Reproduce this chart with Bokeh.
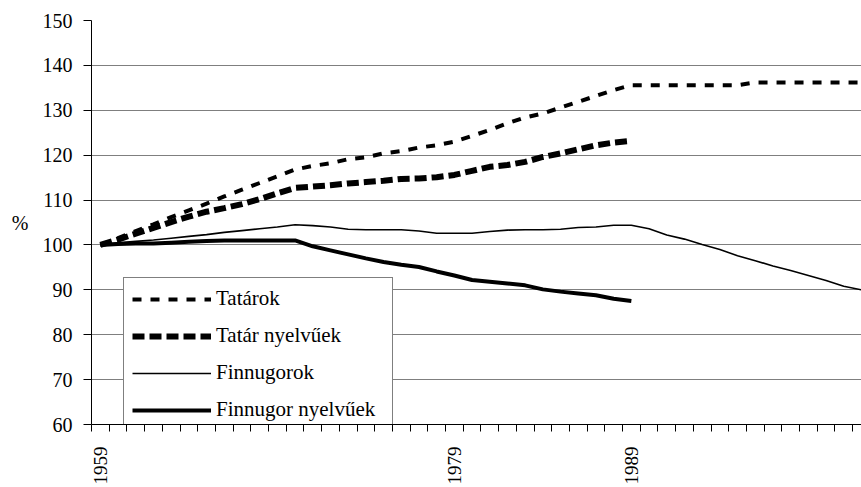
import math
from bokeh.plotting import figure
from bokeh.models import Range1d, FixedTicker, Legend, LegendItem
from bokeh.embed import file_html
from bokeh.resources import INLINE

years_all = list(range(1959, 2003))
years_to_1989 = list(range(1959, 1990))
x_labels = [1959, 1979, 1989]
y_ticks = [60, 70, 80, 90, 100, 110, 120, 130, 140, 150]

tatarok = [100.0, 101.5, 103.1, 104.6, 106.2, 107.7, 109.2, 110.8, 112.3, 113.8,
           115.3, 116.8, 117.6, 118.2, 119.1, 119.5, 120.4, 120.9, 121.7, 122.2,
           123.0, 124.3, 125.6, 127.1, 128.4, 129.3, 130.6, 131.9, 133.2, 134.5,
           135.6, 135.6, 135.6, 135.6, 135.6, 135.6, 135.6, 136.2, 136.2, 136.2,
           136.2, 136.2, 136.2, 136.2]
tatar_nyelvuek = [100.0, 101.2, 102.5, 103.8, 105.1, 106.3, 107.4, 108.2, 109.1, 110.2,
                  111.5, 112.7, 113.0, 113.3, 113.7, 114.0, 114.3, 114.7, 114.8, 115.1,
                  115.6, 116.5, 117.4, 117.8, 118.5, 119.6, 120.4, 121.3, 122.2, 122.8,
                  123.2]
finnugorok = [100.0, 100.5, 100.8, 101.1, 101.5, 101.9, 102.3, 102.8, 103.2, 103.6,
              104.0, 104.5, 104.3, 104.0, 103.5, 103.4, 103.4, 103.4, 103.1, 102.6,
              102.6, 102.6, 103.0, 103.3, 103.4, 103.4, 103.5, 103.9, 104.0, 104.4,
              104.4, 103.6, 102.2, 101.3, 100.1, 99.0, 97.6, 96.5, 95.3, 94.3,
              93.2, 92.1, 90.8, 90.0]
finnugor_nyelvuek = [100.0, 100.2, 100.3, 100.3, 100.5, 100.7, 100.9, 101.0, 101.0, 101.0,
                     101.0, 101.0, 99.7, 98.8, 97.9, 97.0, 96.2, 95.6, 95.1, 94.1,
                     93.2, 92.2, 91.8, 91.4, 91.0, 90.1, 89.6, 89.2, 88.8, 88.0,
                     87.5]

FONT = "Liberation Serif"
W, H = 861, 487
LEFT, TOP, BOTTOM = 91, 20, 63
px_per_year = 17.7
x_start = 1958.5
x_end = x_start + (W - LEFT) / px_per_year

p = figure(width=W, height=H, output_backend="svg", toolbar_location=None,
           x_range=Range1d(x_start, x_end), y_range=Range1d(60, 150),
           min_border_left=LEFT, min_border_top=TOP, min_border_bottom=BOTTOM,
           min_border_right=0)
p.outline_line_color = None
p.background_fill_color = "white"
p.border_fill_color = "white"

p.xgrid.grid_line_color = None
p.ygrid.grid_line_color = "#7f7f7f"
p.ygrid.grid_line_width = 1
p.yaxis.ticker = FixedTicker(ticks=y_ticks)
p.xaxis.ticker = FixedTicker(ticks=x_labels,
                             minor_ticks=[x_start + k for k in range(0, 45)])

p.yaxis.axis_line_color = "black"
p.yaxis.major_tick_out = 8
p.yaxis.major_tick_in = 0
p.yaxis.minor_tick_line_color = None
p.yaxis.major_label_standoff = 11
p.yaxis.major_label_text_font = FONT
p.yaxis.major_label_text_font_size = "20px"
p.yaxis.major_label_text_color = "black"
p.yaxis.axis_label = "%"
p.yaxis.axis_label_orientation = "horizontal"
p.yaxis.axis_label_text_font = FONT
p.yaxis.axis_label_text_font_size = "20px"
p.yaxis.axis_label_text_font_style = "normal"
p.yaxis.axis_label_text_color = "black"
p.yaxis.axis_label_standoff = 11

p.xaxis.axis_line_color = "black"
p.xaxis.major_tick_out = 0
p.xaxis.major_tick_in = 0
p.xaxis.minor_tick_out = 7
p.xaxis.minor_tick_in = 0
p.xaxis.minor_tick_line_color = "black"
p.xaxis.major_label_orientation = math.pi / 2
p.xaxis.major_label_standoff = 15
p.xaxis.major_label_text_font = FONT
p.xaxis.major_label_text_font_size = "19px"
p.xaxis.major_label_text_color = "black"

r1 = p.line(years_all, tatarok, line_color="black", line_width=4,
            line_dash="9 9", line_cap="butt")
r2 = p.line(years_to_1989, tatar_nyelvuek, line_color="black", line_width=6,
            line_dash="12 5", line_cap="butt")
r3 = p.line(years_all, finnugorok, line_color="black", line_width=1.6)
r4 = p.line(years_to_1989, finnugor_nyelvuek, line_color="black", line_width=4,
            line_join="round")

legend = Legend(items=[
    LegendItem(label="Tatárok", renderers=[r1]),
    LegendItem(label="Tatár nyelvűek", renderers=[r2]),
    LegendItem(label="Finnugorok", renderers=[r3]),
    LegendItem(label="Finnugor nyelvűek", renderers=[r4]),
], location=(32, -7))
legend.border_line_color = "black"
legend.border_line_width = 1
legend.background_fill_color = "white"
legend.background_fill_alpha = 1.0
legend.label_text_font = FONT
legend.label_text_font_size = "21px"
legend.label_text_color = "black"
legend.glyph_width = 79
legend.glyph_height = 24
legend.label_height = 24
legend.label_width = 168
legend.label_standoff = 5
legend.spacing = 12
legend.padding = 8
legend.margin = 0
p.add_layout(legend, "center")

open("out.html", "w").write(file_html(p, INLINE))
